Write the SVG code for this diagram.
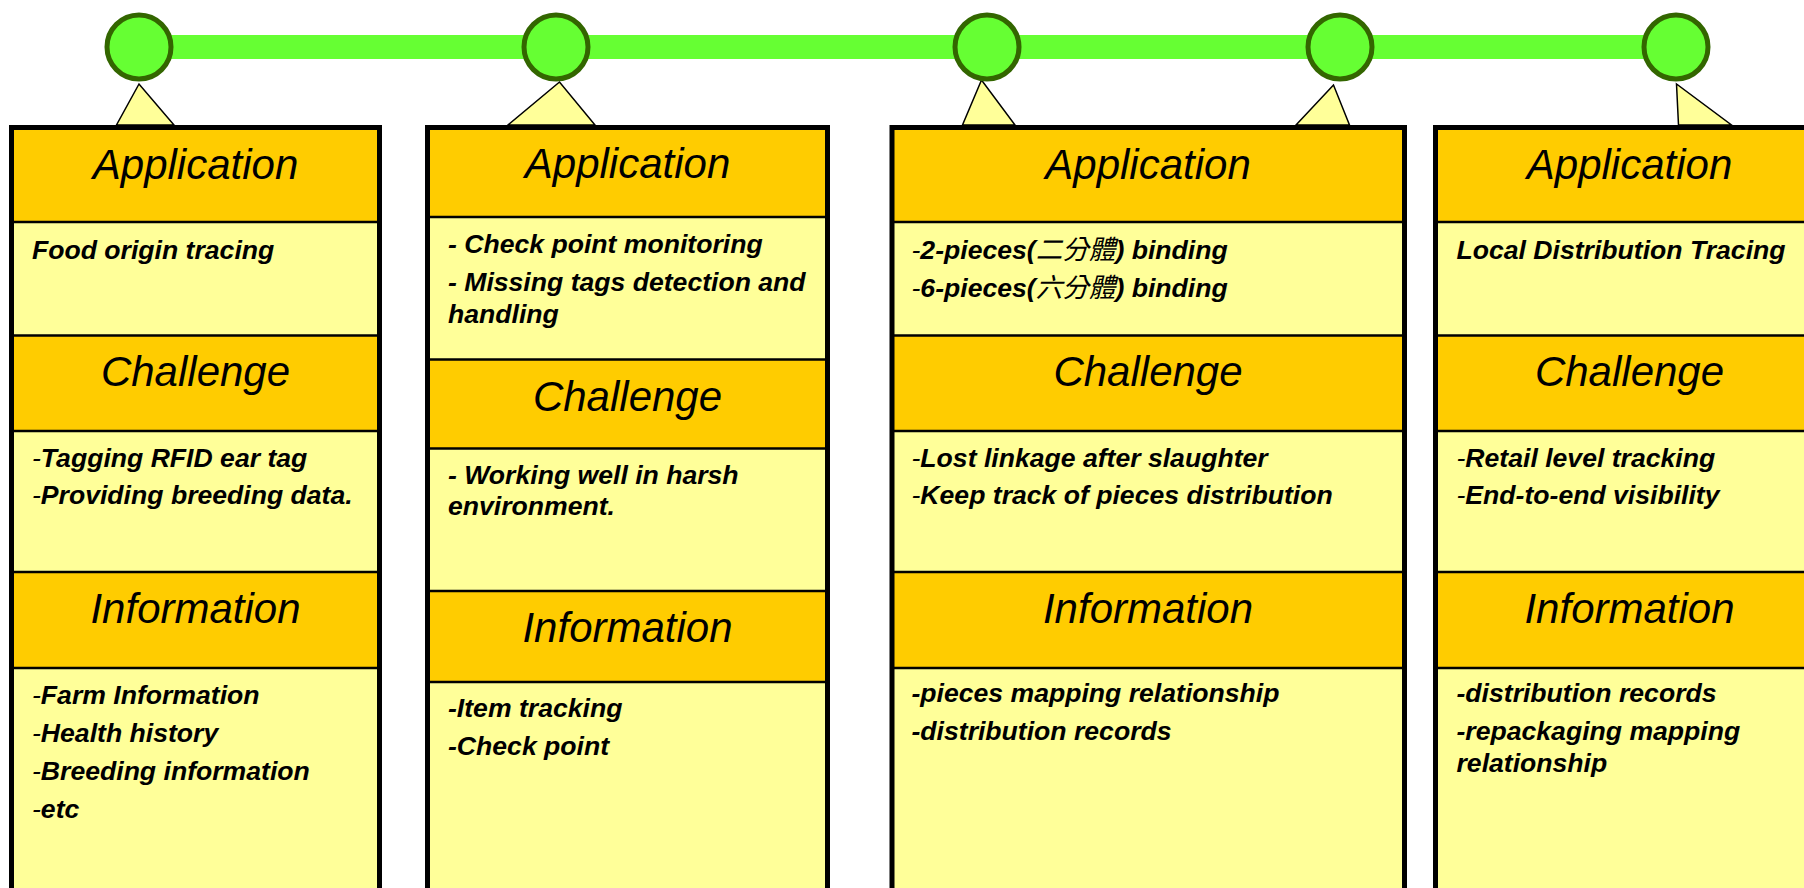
<svg xmlns="http://www.w3.org/2000/svg" width="1804" height="888" viewBox="0 0 1804 888">
<style>
.hdr{fill:#FFCC00}
.cnt{fill:#FFFF99}
.div{stroke:#000;stroke-width:2.5}
.frame{fill:none;stroke:#000;stroke-width:5}
.title{font-family:"Liberation Sans",Arial,sans-serif;font-style:italic;font-size:42px;text-anchor:middle;fill:#000}
.body{font-family:"Liberation Sans",Arial,"Noto Sans CJK TC",sans-serif;font-style:italic;font-weight:bold;font-size:26.6px;fill:#000}
.reg{font-weight:normal}
.cjk{font-family:"Noto Sans CJK TC",sans-serif;font-weight:normal}
.ptr{fill:#FFFF99;stroke:#000;stroke-width:1.5;stroke-linejoin:miter}
.ms{fill:#66FF33;stroke:#336600;stroke-width:5}
</style>
<rect width="1804" height="888" fill="#FFFFFF"/>
<g id="connectors">
  <line x1="139" y1="47" x2="1675" y2="47" stroke="#66FF33" stroke-width="24"/>
  <polygon class="ptr" points="139,84 116.5,125 174,125"/>
  <polygon class="ptr" points="559.5,82 508,125 595,125"/>
  <polygon class="ptr" points="981.5,80 962.5,125 1015,125"/>
  <polygon class="ptr" points="1333.5,85 1296,125 1349.5,125"/>
  <polygon class="ptr" points="1676.5,84 1678.5,125 1731.5,125"/>
</g>
<g id="milestone1"><circle class="ms" cx="139" cy="47" r="32"/></g>
<g id="milestone2"><circle class="ms" cx="556" cy="47" r="32"/></g>
<g id="milestone3"><circle class="ms" cx="987" cy="47" r="32"/></g>
<g id="milestone4"><circle class="ms" cx="1340" cy="47" r="32"/></g>
<g id="milestone5"><circle class="ms" cx="1676" cy="47" r="32"/></g>

<g id="box1">
  <rect class="hdr" x="11.5" y="127.5" width="368" height="94.5"/>
  <rect class="cnt" x="11.5" y="222" width="368" height="113.5"/>
  <rect class="hdr" x="11.5" y="335.5" width="368" height="95.5"/>
  <rect class="cnt" x="11.5" y="431" width="368" height="141"/>
  <rect class="hdr" x="11.5" y="572" width="368" height="96"/>
  <rect class="cnt" x="11.5" y="668" width="368" height="240"/>
  <line class="div" x1="11.5" y1="222" x2="379.5" y2="222"/>
  <line class="div" x1="11.5" y1="335.5" x2="379.5" y2="335.5"/>
  <line class="div" x1="11.5" y1="431" x2="379.5" y2="431"/>
  <line class="div" x1="11.5" y1="572" x2="379.5" y2="572"/>
  <line class="div" x1="11.5" y1="668" x2="379.5" y2="668"/>
  <rect class="frame" x="11.5" y="127.5" width="368" height="800"/>
  <text class="title" x="195.5" y="179">Application</text>
  <text class="title" x="195.5" y="386">Challenge</text>
  <text class="title" x="195.5" y="623">Information</text>
  <text class="body" x="32" y="259">Food origin tracing</text>
  <text class="body" x="32" y="466.5"><tspan class="reg">-</tspan>Tagging RFID ear tag</text>
  <text class="body" x="32" y="504"><tspan class="reg">-</tspan>Providing breeding data.</text>
  <text class="body" x="32" y="704"><tspan class="reg">-</tspan>Farm Information</text>
  <text class="body" x="32" y="742"><tspan class="reg">-</tspan>Health history</text>
  <text class="body" x="32" y="780"><tspan class="reg">-</tspan>Breeding information</text>
  <text class="body" x="32" y="818"><tspan class="reg">-</tspan>etc</text>
</g>

<g id="box2">
  <rect class="hdr" x="427.5" y="127.5" width="400" height="89.5"/>
  <rect class="cnt" x="427.5" y="217" width="400" height="142.5"/>
  <rect class="hdr" x="427.5" y="359.5" width="400" height="89"/>
  <rect class="cnt" x="427.5" y="448.5" width="400" height="142.5"/>
  <rect class="hdr" x="427.5" y="591" width="400" height="91"/>
  <rect class="cnt" x="427.5" y="682" width="400" height="230"/>
  <line class="div" x1="427.5" y1="217" x2="827.5" y2="217"/>
  <line class="div" x1="427.5" y1="359.5" x2="827.5" y2="359.5"/>
  <line class="div" x1="427.5" y1="448.5" x2="827.5" y2="448.5"/>
  <line class="div" x1="427.5" y1="591" x2="827.5" y2="591"/>
  <line class="div" x1="427.5" y1="682" x2="827.5" y2="682"/>
  <rect class="frame" x="427.5" y="127.5" width="400" height="800"/>
  <text class="title" x="627.5" y="178">Application</text>
  <text class="title" x="627.5" y="410.5">Challenge</text>
  <text class="title" x="627.5" y="641.5">Information</text>
  <text class="body" x="448" y="253">- Check point monitoring</text>
  <text class="body" x="448" y="290.5">- Missing tags detection and</text>
  <text class="body" x="448" y="322.5">handling</text>
  <text class="body" x="448" y="484">- Working well in harsh</text>
  <text class="body" x="448" y="515">environment.</text>
  <text class="body" x="448" y="716.5">-Item tracking</text>
  <text class="body" x="448" y="755">-Check point</text>
</g>

<g id="box3">
  <rect class="hdr" x="892" y="127.5" width="512.5" height="94.5"/>
  <rect class="cnt" x="892" y="222" width="512.5" height="113.5"/>
  <rect class="hdr" x="892" y="335.5" width="512.5" height="95.5"/>
  <rect class="cnt" x="892" y="431" width="512.5" height="141"/>
  <rect class="hdr" x="892" y="572" width="512.5" height="96"/>
  <rect class="cnt" x="892" y="668" width="512.5" height="240"/>
  <line class="div" x1="892" y1="222" x2="1404.5" y2="222"/>
  <line class="div" x1="892" y1="335.5" x2="1404.5" y2="335.5"/>
  <line class="div" x1="892" y1="431" x2="1404.5" y2="431"/>
  <line class="div" x1="892" y1="572" x2="1404.5" y2="572"/>
  <line class="div" x1="892" y1="668" x2="1404.5" y2="668"/>
  <rect class="frame" x="892" y="127.5" width="512.5" height="800"/>
  <text class="title" x="1148" y="179">Application</text>
  <text class="title" x="1148" y="386">Challenge</text>
  <text class="title" x="1148" y="623">Information</text>
  <text class="body" x="911.5" y="259"><tspan class="reg">-</tspan>2-pieces(<tspan class="cjk">二分體</tspan>) binding</text>
  <text class="body" x="911.5" y="296.5"><tspan class="reg">-</tspan>6-pieces(<tspan class="cjk">六分體</tspan>) binding</text>
  <text class="body" x="911.5" y="466.5"><tspan class="reg">-</tspan>Lost linkage after slaughter</text>
  <text class="body" x="911.5" y="504"><tspan class="reg">-</tspan>Keep track of pieces distribution</text>
  <text class="body" x="911.5" y="701.5">-pieces mapping relationship</text>
  <text class="body" x="911.5" y="740">-distribution records</text>
</g>

<g id="box4">
  <rect class="hdr" x="1435.5" y="127.5" width="388.5" height="94.5"/>
  <rect class="cnt" x="1435.5" y="222" width="388.5" height="113.5"/>
  <rect class="hdr" x="1435.5" y="335.5" width="388.5" height="95.5"/>
  <rect class="cnt" x="1435.5" y="431" width="388.5" height="141"/>
  <rect class="hdr" x="1435.5" y="572" width="388.5" height="96"/>
  <rect class="cnt" x="1435.5" y="668" width="388.5" height="240"/>
  <line class="div" x1="1435.5" y1="222" x2="1824" y2="222"/>
  <line class="div" x1="1435.5" y1="335.5" x2="1824" y2="335.5"/>
  <line class="div" x1="1435.5" y1="431" x2="1824" y2="431"/>
  <line class="div" x1="1435.5" y1="572" x2="1824" y2="572"/>
  <line class="div" x1="1435.5" y1="668" x2="1824" y2="668"/>
  <rect class="frame" x="1435.5" y="127.5" width="388.5" height="800"/>
  <text class="title" x="1629.5" y="179">Application</text>
  <text class="title" x="1629.5" y="386">Challenge</text>
  <text class="title" x="1629.5" y="623">Information</text>
  <text class="body" x="1456.5" y="259">Local Distribution Tracing</text>
  <text class="body" x="1456.5" y="466.5"><tspan class="reg">-</tspan>Retail level tracking</text>
  <text class="body" x="1456.5" y="504"><tspan class="reg">-</tspan>End-to-end visibility</text>
  <text class="body" x="1456.5" y="701.5">-distribution records</text>
  <text class="body" x="1456.5" y="740">-repackaging mapping</text>
  <text class="body" x="1456.5" y="771.5">relationship</text>
</g>
</svg>
